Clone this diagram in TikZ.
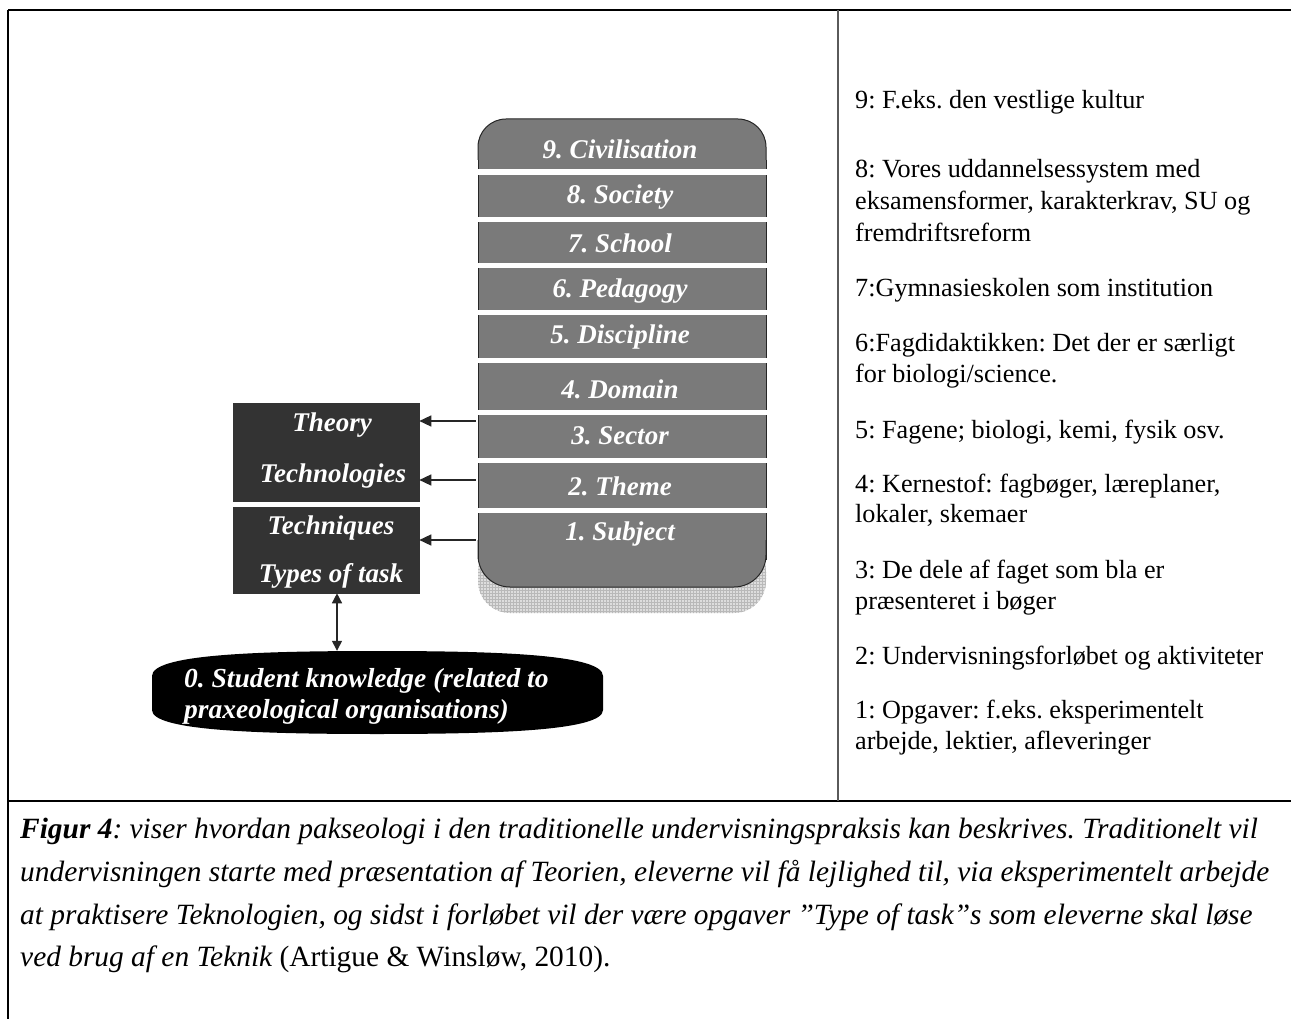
\documentclass[tikz,border=0pt]{standalone}
\usepackage{fontspec}
\setmainfont{Liberation Serif}
\usetikzlibrary{arrows.meta,patterns}

\definecolor{bandgrey}{HTML}{7A7A7A}
\definecolor{boxdark}{HTML}{333333}
\definecolor{shadowgrey}{HTML}{DDDDDD}
\definecolor{rulegrey}{HTML}{5A5A5A}

\frenchspacing
\begin{document}
\begin{tikzpicture}[x=1pt,y=-1pt,
  layer/.style={inner sep=0pt, minimum width=288pt, text=white,
    font=\fontsize{27}{30}\selectfont\bfseries\itshape},
  levelbox/.style={inner sep=0pt, fill=boxdark, draw=black!80, line width=0.6pt},
  boxtext/.style={inner sep=0pt, text=white,
    font=\fontsize{27}{30}\selectfont\bfseries\itshape},
  note/.style={inner sep=0pt, anchor=base west,
    font=\fontsize{26.2}{31}\selectfont},
  capline/.style={inner sep=0pt, anchor=base west,
    font=\fontsize{29.4}{43}\selectfont\itshape},
  conn/.style={draw=black!85, line width=1.4pt,
    -{Triangle[length=12pt,width=11pt]}},
  twoway/.style={draw=black!85, line width=1.4pt,
    {Triangle[length=10pt,width=10pt]}-{Triangle[length=10pt,width=10pt]}},
  gap/.style={fill=white, draw=none},
]
\useasboundingbox (0,0) rectangle (1291,1019);

% ---- table rules ----
\draw[line width=2pt] (8,10) -- (1291,10);
\draw[line width=2pt] (8,10) -- (8,1019);
\draw[line width=2pt] (8,801) -- (1291,801);
\draw[rulegrey, line width=1.6pt] (838,10) -- (838,801);

% ---- drop shadow of the level stack ----
\path[fill=shadowgrey, rounded corners=32pt] (478,540) rectangle (766,613);
\path[pattern=grid, pattern color=gray!55, rounded corners=32pt] (478,540) rectangle (766,613);

% ---- level stack body ----
\path[fill=bandgrey] (478,160) -- (478,147) [rounded corners=28pt] -- (478,119) -- (766,119) [sharp corners] -- (766,160)
  -- (766,560) [rounded corners=32pt] -- (766,587) -- (478,587) [sharp corners] -- (478,560) -- cycle;
\draw[black!85, line width=1pt, rounded corners=28pt] (478,160) -- (478,119) -- (766,119) -- (766,160);
\draw[black!85, line width=1pt] (478,160) -- (478,560) (766,160) -- (766,560);
\draw[black!85, line width=1pt, rounded corners=32pt] (478,540) -- (478,587) -- (766,587) -- (766,540);

% white separators between the levels
\foreach \a/\b in {169/175, 217/222, 263/268, 310/315, 358/363, 410/415, 458/463, 508/513}
  \path[gap] (474,\a) rectangle (770,\b);

% ---- level labels ----
\node[layer] (s9) at (620,149) {9. Civilisation};
\node[layer] (s8) at (620,197) {8. Society};
\node[layer] (s7) at (620,243) {7. School};
\node[layer] (s6) at (620,291) {6. Pedagogy};
\node[layer] (s5) at (620,337) {5. Discipline};
\node[layer] (s4) at (620,389) {4. Domain};
\node[layer] (s3) at (620,436) {3. Sector};
\node[layer] (s2) at (620,486) {2. Theme};
\node[layer] (s1) at (620,534) {1. Subject};

% ---- praxeology boxes ----
\node[levelbox, minimum width=186pt, minimum height=98pt] (boxA) at (326,452) {};
\node[levelbox, minimum width=186pt, minimum height=86pt] (boxB) at (326,550) {};
\node[boxtext] (theory) at (332,425) {Theory};
\node[boxtext] (techno) at (333,476) {Technologies};
\node[boxtext] (techq)  at (331,528) {Techniques};
\node[boxtext] (types)  at (331,576) {Types of task};

% ---- arrows from the levels ----
\coordinate (a3) at ([yshift=15pt]s3.west);
\coordinate (a2) at ([yshift=6pt]s2.west);
\coordinate (a1) at ([yshift=-6pt]s1.west);
\draw[conn] (a3) -- (a3 -| boxA.east);
\draw[conn] (a2) -- (a2 -| boxA.east);
\draw[conn] (a1) -- (a1 -| boxB.east);

% ---- student knowledge ----
\path[fill=black] (152,692) -- (152,676) .. controls (152,655) and (250,651) .. (377,651)
  .. controls (505,651) and (603,655) .. (603,676) -- (603,710)
  .. controls (603,730) and (505,734) .. (377,734)
  .. controls (250,734) and (152,730) .. (152,710) -- cycle;
\node[inner sep=0pt, minimum width=451pt, minimum height=83pt] (stud) at (377.5,692.5) {};
\node[boxtext, anchor=west, align=left, font=\fontsize{27.5}{31}\selectfont\bfseries\itshape] (studtext) at (184,696)
  {0. Student knowledge (related to\\praxeological organisations)};
\coordinate (d0) at ([xshift=11pt]boxB.south);
\draw[twoway] (d0) -- (d0 |- stud.north);

% ---- notes on the levels ----
\node[note] (n9)  at (855,109) {9: F.eks. den vestlige kultur};
\node[note] (n8a) at (855,178) {8: Vores uddannelsessystem med};
\node[note] (n8b) at (855,210) {eksamensformer, karakterkrav, SU og};
\node[note] (n8c) at (855,242) {fremdriftsreform};
\node[note] (n7)  at (855,297) {7:Gymnasieskolen som institution};
\node[note] (n6a) at (855,351) {6:Fagdidaktikken: Det der er særligt};
\node[note] (n6b) at (855,382) {for biologi/science.};
\node[note] (n5)  at (855,438) {5: Fagene; biologi, kemi, fysik osv.};
\node[note] (n4a) at (855,492) {4: Kernestof: fagbøger, læreplaner,};
\node[note] (n4b) at (855,522) {lokaler, skemaer};
\node[note] (n3a) at (855,578) {3: De dele af faget som bla er};
\node[note] (n3b) at (855,609) {præsenteret i bøger};
\node[note] (n2)  at (855,664) {2: Undervisningsforløbet og aktiviteter};
\node[note] (n1a) at (855,718) {1: Opgaver: f.eks. eksperimentelt};
\node[note] (n1b) at (855,749) {arbejde, lektier, afleveringer};

% ---- caption ----
\node[capline] (c1) at (20,838) {\textbf{Figur 4}: viser hvordan pakseologi i den traditionelle undervisningspraksis kan beskrives. Traditionelt vil};
\node[capline] (c2) at (20,881) {undervisningen starte med præsentation af Teorien, eleverne vil få lejlighed til, via eksperimentelt arbejde};
\node[capline] (c3) at (20,924) {at praktisere Teknologien, og sidst i forløbet vil der være opgaver ”Type of task”s som eleverne skal løse};
\node[capline] (c4) at (20,966) {ved brug af en Teknik \upshape(Artigue \& Winsløw, 2010).};
\end{tikzpicture}
\end{document}
